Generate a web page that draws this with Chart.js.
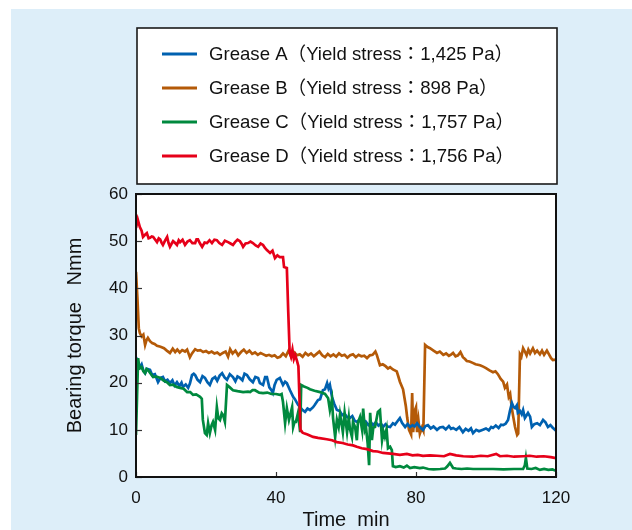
<!DOCTYPE html>
<html><head><meta charset="utf-8">
<script src="https://cdn.jsdelivr.net/npm/chart.js@4.4.1/dist/chart.umd.min.js"></script>
<style>html,body{margin:0;padding:0;background:#fff}#wrap{width:632px;height:530px}</style>
</head><body><div id="wrap"><canvas id="c" width="632" height="530"></canvas></div>
<script>
// ---------- data ----------
const seriesNames = ["Grease A", "Grease B", "Grease C", "Grease D"];
const yieldStress = ["1,425 Pa", "898 Pa", "1,757 Pa", "1,756 Pa"];
const xTicks = [0, 40, 80, 120];
const yTicks = [0, 10, 20, 30, 40, 50, 60];

const aTime = [0,0.5,1.1,1.6,2.1,2.6,3.2,4.0,4.6,5.4,5.9,6.3,7.0,7.7,8.3,9.0,9.7,10.4,11.0,11.7,12.4,13.0,13.4,14.2,14.9,15.4,16.0,16.5,16.9,17.6,18.3,19.0,19.7,20.4,21.1,21.8,22.6,23.2,23.9,24.6,25.3,26.0,26.8,27.7,28.4,29.0,29.7,30.4,31.0,31.7,32.5,33.4,34.1,34.9,35.4,36.3,36.9,37.4,38.1,38.7,39.1,39.6,40.2,41.1,42.0,42.6,43.1,44.0,44.9,45.4,46.3,46.9,47.6,48.3,49.0,49.7,50.6,51.1,52.0,52.6,53.4,54.0,54.6,55.0,55.4,56.0,56.6,57.4,58.2,58.9,59.6,60.3,61.1,61.8,62.5,63.1,64.0,64.9,65.6,66.4,67.2,67.7,68.5,69.3,70.0,70.6,71.3,71.9,72.6,73.4,74.0,74.6,75.4,76.0,76.9,77.6,78.3,79.0,79.6,80.3,81.1,82.0,82.7,83.4,84.2,85.0,86.0,86.8,87.7,88.5,89.4,90.0,90.6,91.5,92.4,93.4,94.2,95.0,95.7,96.3,97.2,98.0,99.1,100.0,100.8,101.5,102.0,102.8,103.6,104.3,104.9,105.6,106.3,106.8,107.4,107.9,108.3,108.8,109.1,109.7,110.2,110.6,111.1,111.6,112.0,112.6,113.1,113.8,114.6,115.4,116.3,117.0,117.7,118.4,119.0,119.7,120];
const aTorque = [25.4,24.2,23.3,23.9,22.6,22.0,22.9,22.7,21.6,21.8,20.9,20.1,21.0,21.2,20.3,20.6,19.9,20.5,19.4,20.1,19.3,20.0,19.1,19.6,18.9,19.8,21.6,21.9,21.6,20.6,20.1,21.4,21.0,20.1,19.5,20.8,21.2,20.4,21.5,22.0,21.1,20.6,21.8,21.2,20.3,21.3,21.0,20.5,21.9,21.6,20.7,20.1,21.2,21.0,19.9,19.5,21.2,21.2,19.0,18.4,17.8,19.5,20.6,21.0,19.5,20.2,19.9,18.4,17.0,16.5,15.3,14.8,14.2,13.8,14.5,14.2,14.8,15.3,16.3,16.5,18.4,18.6,19.9,18.8,19.5,17.0,15.6,14.2,14.0,13.1,13.4,12.7,12.5,12.9,11.9,11.7,12.2,11.4,11.8,11.0,11.5,11.0,11.6,10.9,11.3,10.6,11.2,10.7,10.6,11.4,11.1,11.7,12.5,11.5,10.6,11.2,10.6,11.0,10.7,11.4,10.6,10.0,10.8,11.0,10.3,10.7,10.0,10.5,10.6,10.1,10.8,10.2,10.4,10.0,10.6,9.5,10.2,9.8,10.3,9.3,10.0,9.7,10.0,10.3,9.9,10.6,10.4,10.9,10.4,11.1,11.0,11.3,12.1,13.9,15.7,14.8,14.6,15.2,13.6,14.0,13.3,14.2,12.5,13.1,13.6,12.8,10.6,11.2,11.4,11.0,12.1,11.6,10.6,11.0,10.5,10.0,9.8];

const bTime = [0,0.4,0.8,1.1,1.6,2.1,2.6,3.0,3.4,4.0,4.6,5.3,6.0,7.0,8.0,8.8,9.7,10.5,11.2,11.8,12.5,13.2,14.0,14.6,15.4,16.0,16.9,17.6,18.4,19.2,20.0,20.8,21.6,22.4,23.2,24.0,24.8,25.6,26.3,26.9,27.6,28.4,29.2,30.0,30.8,31.6,32.4,33.2,34.0,34.8,35.6,36.4,37.2,38.0,38.8,39.6,40.4,41.2,42.0,42.8,43.6,44.4,45.2,46.0,46.8,47.6,48.4,49.2,50.0,50.8,51.6,52.4,53.2,54.0,54.8,55.6,56.4,57.2,58.0,58.8,59.6,60.4,61.2,62.0,62.8,63.6,64.4,65.2,66.0,66.8,67.6,68.4,68.8,69.7,70.5,71.3,72.0,72.6,73.4,74.5,75.0,75.4,76.3,77.1,77.5,78.0,78.6,78.9,79.2,79.6,80.0,80.3,80.7,81.1,81.7,82.1,82.6,83.2,84.0,85.0,86.0,86.8,87.8,88.6,89.4,90.1,90.6,91.3,92.0,92.7,93.4,94.0,94.5,95.3,96.2,97.0,98.3,99.2,100.0,101.0,102.0,102.7,103.4,104.2,104.9,105.4,106.0,106.5,106.9,107.4,107.8,108.3,108.9,109.2,109.7,110.1,110.6,111.1,111.6,112.1,112.6,113.4,114.0,114.6,115.4,116.0,116.6,117.4,118.0,118.6,119.1,120];
const bTorque = [43.5,38.0,31.5,30.5,29.8,30.2,28.0,29.0,29.5,28.8,28.4,28.2,27.8,27.6,27.3,26.8,26.3,27.2,26.5,27.0,26.4,26.9,26.6,27.0,25.4,26.2,27.1,26.8,26.9,26.5,26.7,26.3,26.6,26.2,26.4,25.9,26.3,26.6,25.5,27.1,26.2,26.8,25.8,26.5,27.0,26.3,26.8,26.1,26.4,25.9,26.3,26.0,25.7,25.9,25.6,25.8,25.3,25.5,26.2,25.6,26.8,25.4,26.4,25.8,26.0,25.5,26.3,25.8,26.2,25.6,26.1,26.6,25.8,25.4,26.1,25.6,26.0,25.5,26.2,25.7,25.9,25.3,25.8,26.0,25.4,25.9,25.6,25.7,25.2,25.8,25.9,26.6,25.9,23.7,23.9,23.5,23.0,23.3,22.8,22.4,21.2,20.2,18.6,15.0,12.5,10.0,9.0,17.8,9.5,14.0,14.8,9.5,12.0,9.2,10.5,9.8,28.0,27.6,27.3,26.8,26.3,26.6,25.9,26.2,25.7,26.0,26.3,25.6,25.8,26.5,25.4,25.0,24.6,24.5,24.2,23.9,23.7,23.4,23.1,22.6,22.2,22.4,21.8,20.8,20.2,18.9,19.6,17.0,17.6,14.5,12.7,10.6,8.9,9.2,26.0,25.5,27.3,26.6,25.8,27.0,26.2,27.3,26.3,26.8,26.0,26.8,25.9,26.8,26.0,25.2,24.8,24.9];

const cTime = [0,0.3,0.6,1.0,1.6,2.1,2.6,3.0,3.4,4.2,4.9,5.9,6.9,8.0,9.0,9.7,10.6,11.6,12.6,13.6,14.6,15.5,16.3,17.2,18.3,18.8,19.1,19.7,20.2,20.6,21.1,21.6,22.0,22.6,23.1,23.5,24.0,24.5,24.9,25.4,26.0,26.8,27.7,29.0,30.6,32.0,32.6,33.3,34.0,35.2,36.3,37.5,38.7,40.0,41.1,41.6,42.0,42.6,43.1,43.7,44.2,44.6,44.9,45.3,45.7,46.3,46.9,47.2,48.0,49.0,49.7,51.0,52.6,54.0,54.9,55.4,56.0,56.3,56.9,57.4,57.9,58.3,58.8,59.1,59.6,60.3,60.8,61.1,61.7,62.0,62.6,63.1,63.4,64.0,64.6,64.9,65.4,65.7,66.2,66.6,66.9,67.4,67.8,68.3,69.1,69.7,70.3,70.7,71.1,71.6,72.0,72.6,73.1,73.4,74.2,75.4,76.5,77.4,78.3,79.5,81.1,82.0,83.5,85.0,86.9,88.3,88.9,89.7,90.6,91.5,93.0,94.6,96.3,99.0,102.0,105.0,108.0,110.6,111.1,111.4,111.8,113.0,114.2,115.4,116.6,117.8,119.0,120];
const cTorque = [8.9,17.0,25.2,23.0,23.3,22.4,22.0,22.9,22.7,21.9,21.2,21.3,21.0,20.4,20.0,19.5,19.6,19.1,18.9,18.7,18.0,18.0,17.4,17.5,17.0,16.6,12.1,9.3,8.9,11.4,9.3,11.0,11.7,10.0,14.8,12.5,12.1,13.5,13.1,11.7,19.5,19.0,18.4,18.2,18.0,18.1,18.0,18.4,18.4,17.9,17.8,17.9,17.6,17.6,17.4,17.6,15.9,11.4,14.6,12.1,13.6,14.8,10.6,11.7,11.7,13.6,9.5,19.5,19.2,18.9,18.6,18.3,18.0,17.6,16.7,14.2,16.5,12.5,8.5,12.1,10.6,13.3,11.0,9.5,13.6,9.5,12.6,10.3,8.5,11.7,10.6,7.8,11.5,12.7,10.0,14.5,10.0,10.6,7.0,2.5,13.6,7.8,10.5,10.6,13.8,14.2,7.8,9.6,8.5,10.2,6.1,6.4,5.7,2.3,2.1,2.3,2.0,2.4,1.9,2.1,1.9,2.0,1.7,1.6,1.7,1.8,2.2,3.0,1.9,1.8,1.7,1.8,1.7,1.7,1.7,1.6,1.7,1.7,2.5,4.0,1.8,1.7,1.9,1.5,1.7,1.5,1.6,1.3];

const dTime = [0,0.5,1.1,1.6,2.0,2.5,3.1,3.6,4.0,4.5,4.9,5.5,6.0,6.5,6.9,7.3,7.7,8.3,8.9,9.3,9.7,10.2,10.6,11.2,11.7,12.2,12.6,13.3,14.0,14.7,15.4,16.1,16.9,17.3,17.7,18.3,18.9,19.6,20.3,21.0,21.7,22.4,23.1,23.8,24.6,25.4,26.3,27.0,27.7,28.3,29.0,29.7,30.2,30.6,31.3,32.0,32.7,33.4,34.2,34.9,35.6,36.3,36.8,37.4,38.3,39.0,39.7,40.4,41.1,42.0,42.3,43.1,43.5,43.9,44.3,44.7,45.1,45.5,46.0,46.4,47.0,47.6,48.2,49.0,50.6,52.0,54.5,56.0,57.4,59.0,60.5,62.0,63.1,64.5,66.0,67.7,69.0,70.6,72.0,73.4,75.4,77.4,79.0,80.5,82.0,84.0,86.0,88.0,89.7,91.5,93.5,96.3,98.5,100.5,102.9,104.0,106.0,108.0,110.6,112.5,114.5,116.5,118.5,120];
const dTorque = [52.8,54.6,53.0,52.2,50.9,51.3,51.7,50.6,50.7,51.0,50.9,50.3,49.8,50.6,50.4,49.7,49.2,50.1,50.9,49.6,48.8,49.5,50.0,49.6,49.2,50.2,49.8,50.3,49.2,49.9,50.2,49.6,49.6,50.4,50.4,49.5,48.8,49.7,49.6,50.2,49.6,50.3,50.2,49.6,49.2,50.1,49.8,49.5,49.2,49.8,50.3,50.0,49.4,48.8,49.5,49.6,49.9,49.6,49.1,48.8,49.5,49.2,48.6,48.1,47.5,48.0,46.4,47.0,46.6,46.6,44.5,44.3,35.0,26.5,25.5,27.0,25.0,25.8,24.6,23.5,10.0,9.4,9.2,9.0,8.5,8.3,8.0,7.8,7.4,7.2,6.9,6.7,6.4,6.1,5.9,5.5,5.4,5.1,5.0,4.9,4.7,4.9,4.6,4.7,4.5,4.6,4.5,4.4,4.9,4.6,4.4,4.3,4.5,4.4,4.9,4.4,4.5,4.3,4.4,4.5,4.3,4.4,4.2,4.0];

// ---------- chart ----------
const FONT = "'Liberation Sans', Arial, 'Noto Sans CJK JP', sans-serif";
const colors = ["#0061b0", "#b45a08", "#00893e", "#e60019"];
const times = [aTime, bTime, cTime, dTime];
const torques = [aTorque, bTorque, cTorque, dTorque];

const datasets = seriesNames.map((n, i) => ({
  label: n + "（Yield stress：" + yieldStress[i] + "）",
  data: times[i].map((t, k) => ({x: t, y: torques[i][k]})),
  borderColor: colors[i],
  borderWidth: 2.7,
  pointRadius: 0,
  tension: 0,
  fill: false
}));
// draw order: reference draws red on top
const order = [1, 0, 2, 3];
order.forEach((di, k) => datasets[di].order = 4 - k);

const bgPlugin = {
  id: 'bg',
  beforeDraw(chart) {
    const ctx = chart.ctx, ca = chart.chartArea;
    ctx.save();
    ctx.fillStyle = '#ffffff';
    ctx.fillRect(0, 0, chart.width, chart.height);
    ctx.fillStyle = '#ddeef9';
    ctx.fillRect(11, 9, chart.width - 11, chart.height - 9);
    ctx.fillStyle = '#ffffff';
    ctx.fillRect(ca.left, ca.top, ca.right - ca.left, ca.bottom - ca.top);
    // legend box
    ctx.fillRect(137, 28, 420, 156);
    ctx.strokeStyle = '#1a1a1a';
    ctx.lineWidth = 1.6;
    ctx.strokeRect(137, 28, 420, 156);
    ctx.restore();
  },
  afterDraw(chart) {
    const ctx = chart.ctx, ca = chart.chartArea;
    const xs = chart.scales.x, ys = chart.scales.y;
    ctx.save();
    ctx.strokeStyle = '#333';
    ctx.lineWidth = 1.2;
    xTicks.forEach(v => {
      const px = Math.round(xs.getPixelForValue(v)) + 0.5;
      ctx.beginPath(); ctx.moveTo(px, ca.bottom); ctx.lineTo(px, ca.bottom - 5); ctx.stroke();
    });
    yTicks.forEach(v => {
      const py = Math.round(ys.getPixelForValue(v)) + 0.5;
      ctx.beginPath(); ctx.moveTo(ca.left, py); ctx.lineTo(ca.left + 6, py); ctx.stroke();
    });
    ctx.strokeStyle = '#111';
    ctx.lineWidth = 2;
    ctx.strokeRect(ca.left, ca.top, ca.right - ca.left, ca.bottom - ca.top);
    // legend entries
    ctx.font = "18.6px " + FONT;
    ctx.textBaseline = 'middle';
    ctx.textAlign = 'left';
    chart.data.datasets.forEach((ds, i) => {
      const y = 54 + 34 * i;
      ctx.strokeStyle = ds.borderColor;
      ctx.lineWidth = 3;
      ctx.beginPath(); ctx.moveTo(162, y); ctx.lineTo(197, y); ctx.stroke();
      ctx.fillStyle = '#111';
      ctx.fillText(ds.label, 209, y + 1);
    });
    ctx.restore();
  }
};

new Chart(document.getElementById('c'), {
  type: 'line',
  data: {datasets},
  options: {
    responsive: false,
    devicePixelRatio: 1,
    animation: false,
    layout: {padding: {left: 0, right: 76, top: 194, bottom: 0}},
    plugins: {legend: {display: false}, tooltip: {enabled: false}},
    scales: {
      x: {
        type: 'linear', min: 0, max: 120,
        afterBuildTicks: s => { s.ticks = xTicks.map(v => ({value: v})); },
        afterFit: s => { s.height = 53; },
        ticks: {padding: 11, color: '#111', font: {family: FONT, size: 17}},
        grid: {drawOnChartArea: false, drawTicks: false, display: false},
        border: {display: false},
        title: {display: true, text: 'Time  min', color: '#111', padding: 0, font: {family: FONT, size: 20, lineHeight: 1}}
      },
      y: {
        type: 'linear', min: 0, max: 60,
        afterBuildTicks: s => { s.ticks = yTicks.map(v => ({value: v})); },
        afterFit: s => { s.width = 136; },
        ticks: {padding: 8, color: '#111', font: {family: FONT, size: 17}},
        grid: {drawOnChartArea: false, drawTicks: false, display: false},
        border: {display: false},
        title: {display: true, text: 'Bearing torque   Nmm', color: '#111', padding: {top: 65, bottom: 0}, font: {family: FONT, size: 20, lineHeight: 1}}
      }
    }
  },
  plugins: [bgPlugin]
});
</script>
</body></html>
